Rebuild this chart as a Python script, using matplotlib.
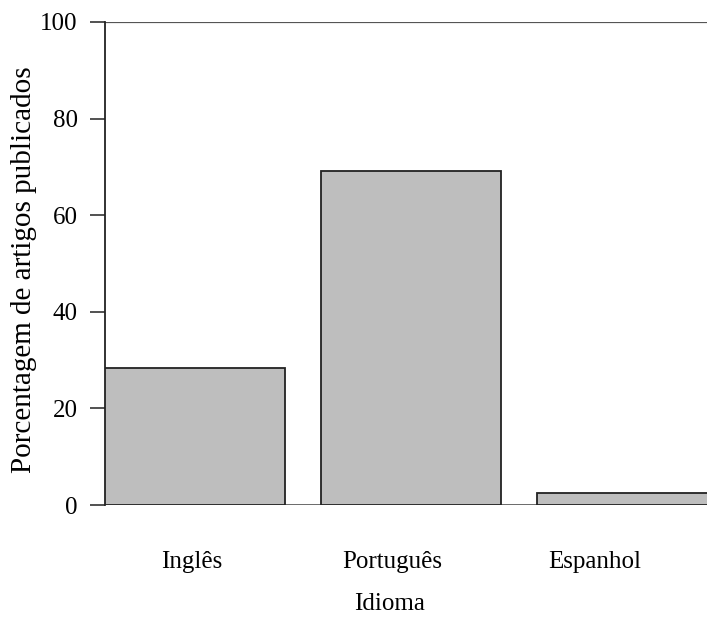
import numpy as np
import matplotlib.pyplot as plt

# percentual de artigos por idioma
idiomas = ["Inglês", "Português", "Espanhol"]
porcentagem = [28.3, 69.2, 2.5]
yticks = [0, 20, 40, 60, 80, 100]

plt.rcParams['font.family'] = ['Liberation Serif', 'DejaVu Serif']

fig = plt.figure(figsize=(7.07, 6.26), dpi=100)
ax = fig.add_axes([105/707, 1 - 505/626, 1 - 105/707, (505 - 22)/626])

# barras no estilo do barplot do R (largura 1, espacamento 0.2)
largura, espaco = 1.0, 0.2
esq = espaco + np.arange(len(idiomas)) * (largura + espaco)
ax.bar(esq, porcentagem, width=largura, align='edge',
       color='#bebebe', edgecolor='#222222', linewidth=1.3, zorder=3)

ax.axhline(0, color='#6a6a6a', linewidth=1.4, zorder=2)
ax.axhline(100, color='#555555', linewidth=1.6, zorder=2)

ax.set_xlim(0.2, 0.2 + (707 - 105) / 180)
ax.set_ylim(0, 100)

for s in ['top', 'right', 'bottom']:
    ax.spines[s].set_visible(False)
ax.spines['left'].set_linewidth(1.3)
ax.spines['left'].set_color('#222222')

ax.set_yticks(yticks)
ax.tick_params(axis='y', length=10.8, width=1.2, color='#333333',
               labelsize=18, pad=9)

# rotulos das categorias
pos_rotulos = [0.683, 1.794, 2.922]
ax.set_xticks(pos_rotulos)
ax.set_xticklabels(idiomas)
ax.tick_params(axis='x', length=0, labelsize=18, pad=33)

ax.set_xlabel("Idioma", fontsize=18)
ax.xaxis.set_label_coords((390 - 105) / 602, -0.183)
ax.set_ylabel("Porcentagem de artigos publicados", fontsize=21)
ax.yaxis.set_label_coords(-0.113, 0.487)

fig.savefig("out.png", dpi=100)
